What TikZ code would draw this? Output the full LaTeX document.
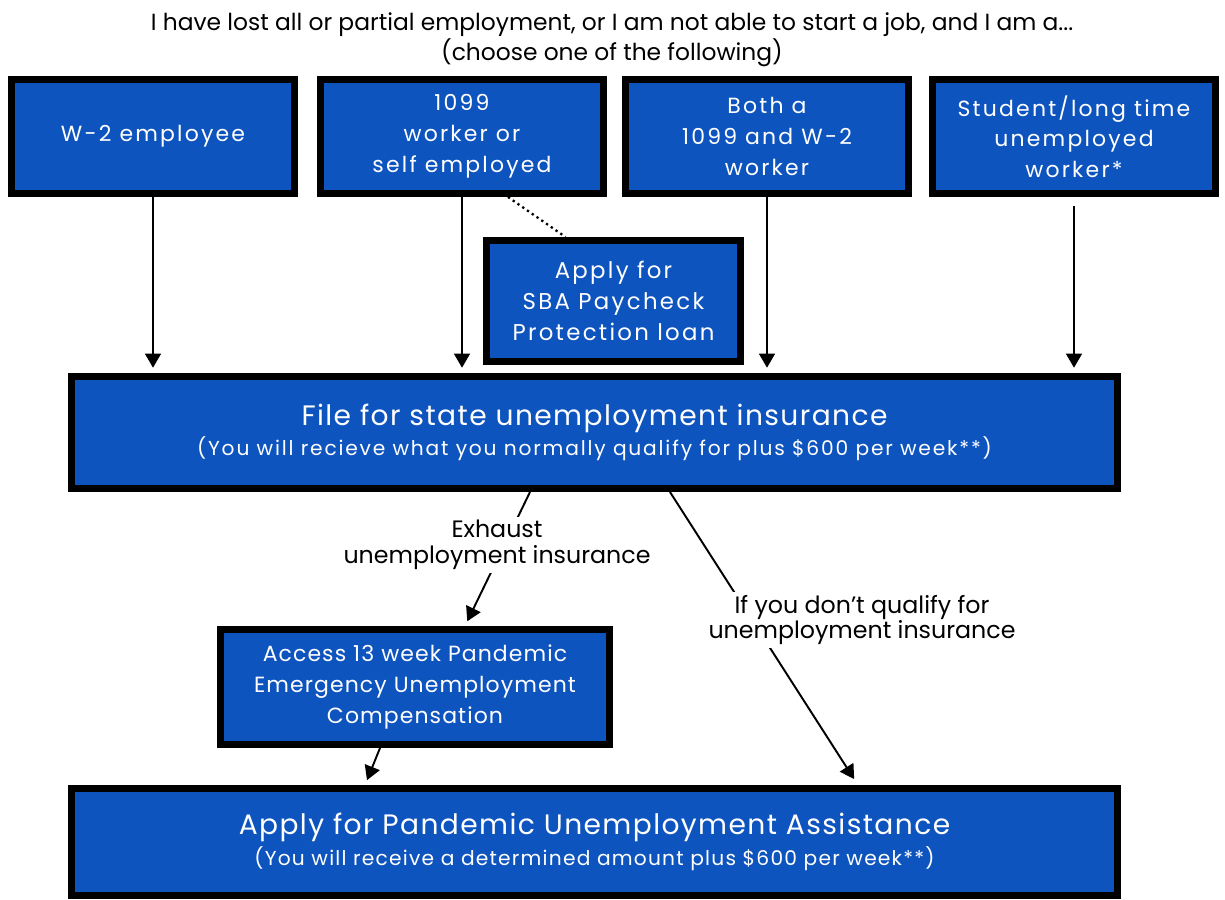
\documentclass[tikz,border=0pt]{standalone}
\usepackage{fontspec}
\setmainfont{Poppins}
\usetikzlibrary{arrows.meta}
\definecolor{boxblue}{RGB}{14,84,190}
\tikzset{
  box/.style={draw=black,line width=4pt,fill=boxblue,text=white,align=center,inner sep=2pt,font=\fontsize{12.5}{17.5}\selectfont\addfontfeatures{LetterSpace=10}},
  topbox/.style={box,minimum width=5.66cm,minimum height=2.28cm},
  widebox/.style={box,minimum width=20.92cm,minimum height=2.2cm},
  lbl/.style={fill=white,align=center,inner sep=2pt,font=\fontsize{13.5}{14.5}\selectfont},
  arr/.style={line width=1.1pt,-{Triangle[width=9pt,length=8pt]}}
}
\begin{document}
\begin{tikzpicture}[x=0.02cm,y=-0.02cm]
\useasboundingbox (0,0) rectangle (1225,900);
\node[align=center,font=\fontsize{13.3}{17}\selectfont] (title) at (612,40)
  {I have lost all or partial employment, or I am not able to start a job, and I am a...\\(choose one of the following)};
\node[topbox] (w2) at (153,136.5) {W-2 employee};
\node[topbox] (self) at (462,136.5) {1099\\worker or\\self employed};
\node[topbox] (both) at (767,136.5) {Both a\\1099 and W-2\\worker};
\node[topbox] (student) at (1074,136.5) {Student/long time\\unemployed\\worker*};
\node[box,minimum width=5.08cm,minimum height=2.42cm,font=\fontsize{13}{17.5}\selectfont\addfontfeatures{LetterSpace=10}] (sba) at (613.5,301)
  {Apply for\\SBA Paycheck\\Protection loan};
\node[widebox,minimum height=2.24cm] (file) at (594.5,432.5)
  {{\fontsize{16}{21}\selectfont\addfontfeatures{LetterSpace=5}File for state unemployment insurance}\\
   {\fontsize{11.5}{16}\selectfont\addfontfeatures{LetterSpace=9}(You will recieve what you normally qualify for plus \$600 per week**)}};
\node[box,minimum width=7.78cm,minimum height=2.3cm,font=\fontsize{12.5}{17.5}\selectfont\addfontfeatures{LetterSpace=5}] (access) at (415,687)
  {Access 13 week Pandemic\\Emergency Unemployment\\Compensation};
\node[widebox,minimum height=2.14cm] (pua) at (594.5,842)
  {{\fontsize{16}{21}\selectfont\addfontfeatures{LetterSpace=5}Apply for Pandemic Unemployment Assistance}\\
   {\fontsize{11.5}{16}\selectfont\addfontfeatures{LetterSpace=6}(You will receive a determined amount plus \$600 per week**)}};
\draw[arr,shorten >=3pt] (w2.south) -- (w2.south |- file.north);
\draw[arr,shorten >=3pt] (self.south) -- (self.south |- file.north);
\draw[arr,shorten >=3pt] (both.south) -- (both.south |- file.north);
\draw[arr,shorten <=5pt,shorten >=3pt] (student.south) -- (student.south |- file.north);
\draw[line width=1.3pt,dotted] ([xshift=0.92cm]self.south) -- ([xshift=-0.96cm]sba.north);
\draw[arr,shorten >=3pt] ([xshift=-1.29cm]file.south) -- ([xshift=1.0cm]access.north);
\draw[arr,shorten >=3pt] ([xshift=-0.7cm]access.south) -- ([xshift=-4.59cm]pua.north);
\draw[arr,shorten >=4pt] ([xshift=1.51cm]file.south) -- ([xshift=5.27cm]pua.north);
\node[lbl] (exhaust) at (497,545) {Exhaust\\unemployment insurance};
\node[lbl] (noqual) at (862,620) {If you don't qualify for\\unemployment insurance};
\end{tikzpicture}
\end{document}
